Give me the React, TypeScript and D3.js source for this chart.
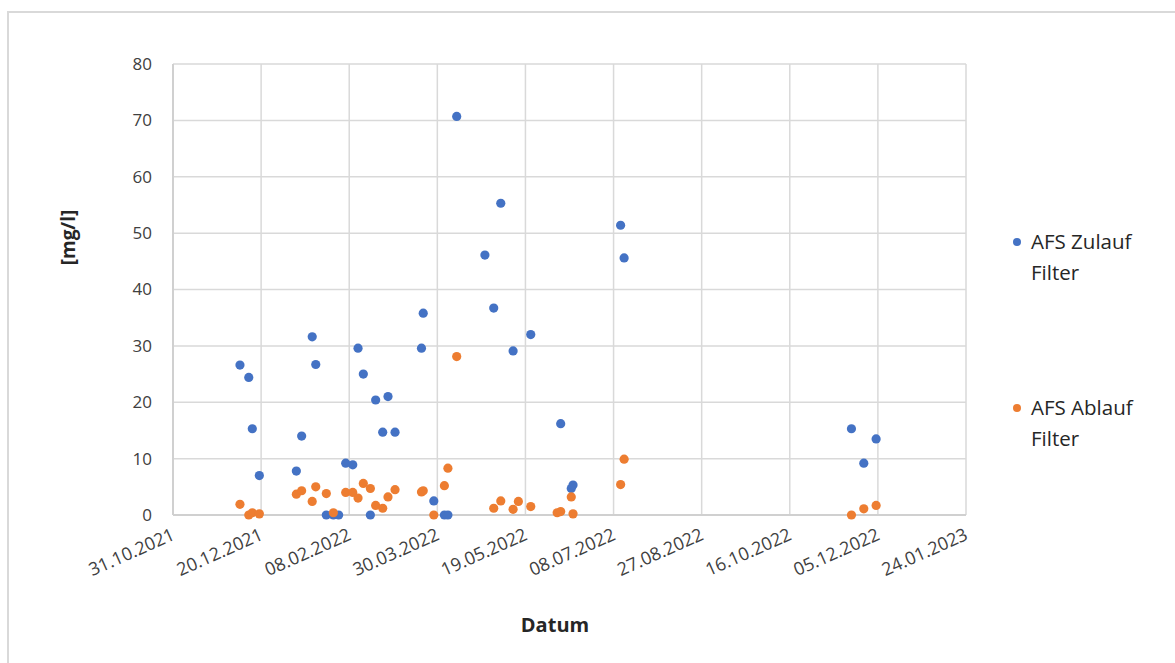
import React from "react";
import * as d3 from "d3";

// Sampling dates (dd.mm.yyyy) with paired inflow / outflow TSS values in mg/l
const sampleDates = [
  "08.12.2021", "13.12.2021", "15.12.2021", "19.12.2021",
  "09.01.2022", "12.01.2022", "18.01.2022", "20.01.2022", "26.01.2022", "30.01.2022",
  "02.02.2022", "06.02.2022", "10.02.2022", "13.02.2022", "16.02.2022", "20.02.2022",
  "23.02.2022", "27.02.2022", "02.03.2022", "06.03.2022", "21.03.2022", "22.03.2022",
  "28.03.2022", "03.04.2022", "05.04.2022", "10.04.2022", "26.04.2022", "01.05.2022",
  "05.05.2022", "12.05.2022", "15.05.2022", "22.05.2022", "06.06.2022", "08.06.2022",
  "14.06.2022", "15.06.2022", "12.07.2022", "14.07.2022",
  "20.11.2022", "27.11.2022", "04.12.2022",
];

const zulaufValues: (number | null)[] = [
  26.6, 24.4, 15.3, 7.0,
  7.8, 14.0, 31.6, 26.7, 0, 0,
  0, 9.2, 8.9, 29.6, 25.0, 0,
  20.4, 14.7, 21.0, 14.7, 29.6, 35.8,
  2.5, 0, 0, 70.7, 46.1, 36.7,
  55.3, 29.1, null, 32.0, null, 16.2,
  4.7, 5.3, 51.4, 45.6,
  15.3, 9.2, 13.5,
];

const ablaufValues: (number | null)[] = [
  1.9, 0, 0.4, 0.2,
  3.7, 4.3, 2.4, 5.0, 3.8, 0.4,
  null, 4.0, 4.0, 3.0, 5.6, 4.7,
  1.7, 1.2, 3.2, 4.5, 4.1, 4.3,
  0, 5.2, 8.3, 28.1, null, 1.2,
  2.5, 1.0, 2.4, 1.5, 0.4, 0.6,
  3.2, 0.2, 5.4, 9.9,
  0, 1.1, 1.7,
];

const xTickLabels = [
  "31.10.2021", "20.12.2021", "08.02.2022", "30.03.2022", "19.05.2022",
  "08.07.2022", "27.08.2022", "16.10.2022", "05.12.2022", "24.01.2023",
];
const yTicks = [0, 10, 20, 30, 40, 50, 60, 70, 80];

const seriesNames = ["AFS Zulauf Filter", "AFS Ablauf Filter"];
const seriesColors = ["#4472C4", "#ED7D31"];

const parseDate = d3.timeParse("%d.%m.%Y");

const W = 1175;
const H = 663;
const margin = { left: 173, right: 966, top: 64, bottom: 515 };
const font = "'Open Sans', 'Noto Sans', sans-serif";

export default function App() {
  const dates = sampleDates.map((s) => parseDate(s) as Date);
  const tickDates = xTickLabels.map((s) => parseDate(s) as Date);

  const x = d3
    .scaleTime()
    .domain([tickDates[0], tickDates[tickDates.length - 1]])
    .range([margin.left, margin.right]);
  const y = d3.scaleLinear().domain([0, 80]).range([margin.bottom, margin.top]);

  const series = [zulaufValues, ablaufValues];
  const grid = "#d9d9d9";

  return (
    <svg
      width={W}
      height={H}
      style={{ position: "absolute", left: 0, top: 0, background: "#fff" }}
      fontFamily={font}
    >
      <rect x={8} y={12} width={W + 10} height={H + 10} fill="#fff" stroke={grid} strokeWidth={2} />

      {/* horizontal gridlines + y labels */}
      {yTicks.map((t) => (
        <g key={"y" + t}>
          <line x1={margin.left} x2={margin.right} y1={y(t)} y2={y(t)} stroke={grid} strokeWidth={1.5} />
          <text x={152} y={y(t)} dy="0.35em" textAnchor="end" fontSize={17} fill="#404040">
            {t}
          </text>
        </g>
      ))}

      {/* vertical gridlines + rotated date labels */}
      {tickDates.map((d, i) => (
        <g key={"x" + i}>
          <line x1={x(d)} x2={x(d)} y1={margin.top} y2={margin.bottom} stroke={grid} strokeWidth={1.5} />
          <text
            transform={`translate(${x(d) + 3},${margin.bottom + 24}) rotate(-24)`}
            textAnchor="end"
            fontSize={18}
            fill="#404040"
          >
            {xTickLabels[i]}
          </text>
        </g>
      ))}

      {/* axis lines */}
      <line x1={margin.left} x2={margin.left} y1={margin.top} y2={margin.bottom} stroke="#d0d0d0" strokeWidth={2} />
      <line x1={margin.left} x2={margin.right} y1={margin.bottom} y2={margin.bottom} stroke="#d0d0d0" strokeWidth={2} />

      {/* data points */}
      {series.map((vals, si) => (
        <g key={"s" + si}>
          {vals.map((v, i) =>
            v === null ? null : (
              <circle key={i} cx={x(dates[i])} cy={y(v)} r={4.6} fill={seriesColors[si]} />
            )
          )}
        </g>
      ))}

      {/* axis titles */}
      <text
        transform={`translate(75,${(margin.top + margin.bottom) / 2 - 52}) rotate(-90)`}
        textAnchor="middle"
        fontSize={19}
        fontWeight="bold"
        fill="#262626"
      >
        [mg/l]
      </text>
      <text x={555} y={632} textAnchor="middle" fontSize={20} fontWeight="bold" fill="#262626">
        Datum
      </text>

      {/* legend */}
      {seriesNames.map((name, i) => {
        const words = name.split(" ");
        const top = i === 0 ? 242 : 408;
        return (
          <g key={"l" + i}>
            <circle cx={1017} cy={top} r={4} fill={seriesColors[i]} />
            <text x={1031} y={top + 7} fontSize={20.5} fill="#262626">
              {words.slice(0, 2).join(" ")}
            </text>
            <text x={1031} y={top + 38} fontSize={20.5} fill="#262626">
              {words[2]}
            </text>
          </g>
        );
      })}
    </svg>
  );
}
